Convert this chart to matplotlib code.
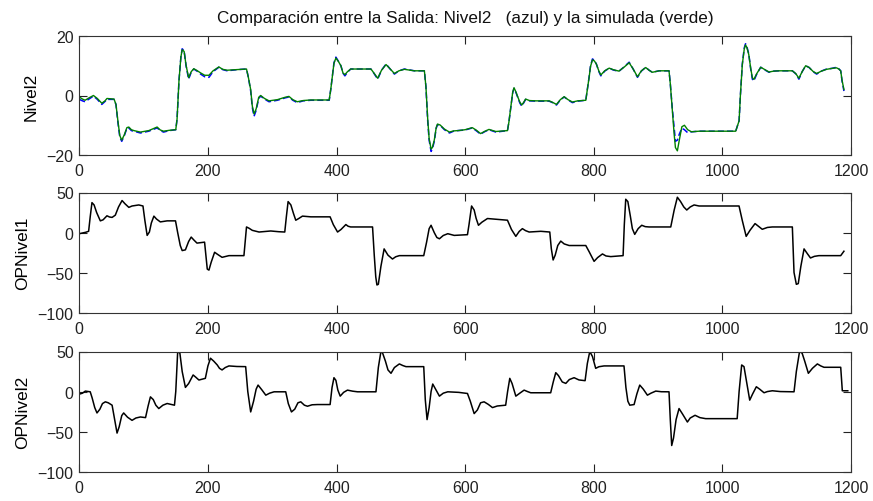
import matplotlib
matplotlib.use("Agg")
import matplotlib.pyplot as plt

plt.rcParams['font.family'] = ['Liberation Sans', 'DejaVu Sans']

# ---- Nivel2 measured (blue) ----
n2_x = [0, 5, 9, 15, 22, 28, 35, 40, 43, 54,
        57, 60, 63, 66, 70, 74, 77, 81, 85, 95,
        108, 121, 126, 131, 140, 150, 152, 155, 158, 160,
        163, 166, 170, 174, 178, 183, 188.6, 195, 201.6, 208,
        217, 223, 230, 245.7, 260, 263, 266.5, 269, 271.7, 275,
        279, 282, 288, 295, 308, 320, 326, 332, 339, 348,
        360, 388.6, 391, 393.8, 396, 399, 403, 406.8, 410, 413,
        417, 422, 453.5, 458, 464, 470, 477, 483, 490, 497,
        505.5, 521, 536.6, 539, 541.8, 544, 547, 549, 552, 555,
        557, 561, 567.8, 575.6, 582, 588.6, 600, 611, 617, 624,
        630, 637, 647.7, 665.8, 668, 671, 674, 676, 679, 681,
        685, 688, 691, 694, 700, 710, 730.6, 736, 742, 748,
        754, 760, 766.8, 775, 787.6, 790, 792.7, 795, 798, 801,
        804, 808, 811, 817, 824, 830, 839, 847, 855, 861,
        868, 874, 880.8, 886, 891, 901.6, 917, 919, 922, 925,
        927, 930, 933, 937, 941, 946, 952, 963.7, 1020.7, 1026,
        1028, 1031, 1034, 1036, 1038, 1041, 1044, 1046.6, 1049, 1053,
        1059.6, 1066, 1072.5, 1080, 1088, 1108.8, 1114, 1119, 1124, 1129.5,
        1135, 1141, 1146.6, 1154, 1162, 1170, 1177.5, 1181, 1184, 1186,
        1189]
n2_y = [-1.3, -1.8, -2.1, -1.2, -0.2, -1.3, -3.0, -2.0, -1.3, -1.3,
        -3, -9, -14, -15.4, -13.5, -11, -10.9, -11.8, -12.0, -12.6,
        -12.0, -10.9, -11.8, -12.3, -11.8, -11.5, -8, 5, 13, 15.7,
        15, 10, 5.5, 7.8, 8.9, 8.2, 7.2, 6.3, 6.1, 8,
        9.5, 8.7, 8.3, 8.7, 8.9, 6, 1.5, -4, -7, -5,
        -1, -0.2, -1.2, -2.1, -1.6, -0.8, -0.5, -1.6, -2.4, -1.8,
        -1.6, -1.6, 2, 7.2, 11, 12.9, 11.5, 10, 7.5, 6.6,
        7.8, 8.9, 8.9, 7.5, 5.5, 8.5, 10.6, 9, 7.2, 8.3,
        8.9, 8.3, 8.3, 3, -8.7, -15, -18.8, -18, -15.4, -11,
        -9.8, -10, -11.5, -12.6, -12.0, -11.8, -11.6, -10.9, -11.8, -13,
        -12.2, -11.5, -12.3, -11.8, -9, -4.1, 1, 2.4, 1, -0.2,
        -2.5, -3.6, -2.5, -1.3, -1.8, -1.9, -1.9, -2.4, -3.2, -1.5,
        -0.5, -1.5, -2.4, -1.9, -1.6, 2, 6.1, 10, 12.3, 11.8,
        10.6, 8, 6.6, 8.2, 9.2, 8.6, 8.1, 9.6, 11.2, 9,
        6.1, 8.2, 9.5, 8.5, 7.8, 8.3, 8.3, 4, -4.1, -11,
        -15.4, -15, -13, -11, -11.5, -12.5, -12.2, -12, -12, -8.5,
        0, 10.6, 16, 17.4, 16.5, 14, 9, 5.5, 4.9, 7,
        9.5, 8.6, 7.8, 8.2, 8.3, 8.3, 7.3, 5.5, 8, 10,
        9.4, 8, 7.2, 8.2, 8.9, 9.1, 9.5, 9, 8.3, 5,
        1.5]

# ---- Nivel2 simulated (green), same sample instants ----
sim_y = [-0.5, -1.2, -1.6, -0.8, 0.0, -1.0, -2.6, -1.8, -1.0, -1.2,
         -3, -8.5, -13.5, -15.0, -13.2, -10.8, -10.6, -11.5, -11.8, -12.3,
         -11.8, -10.6, -11.6, -12.0, -11.7, -11.5, -8, 5, 13, 15.4,
         14.8, 10.2, 6.0, 8.0, 9.0, 8.4, 7.6, 6.8, 6.8, 8.3,
         9.6, 8.8, 8.5, 8.7, 8.9, 6, 2.0, -3.5, -6.2, -4.5,
         -0.6, 0.0, -1.0, -1.8, -1.4, -0.6, -0.3, -1.4, -2.1, -1.7,
         -1.5, -1.5, 2, 7.0, 10.8, 12.6, 11.4, 10.0, 7.6, 7.0,
         8.0, 8.9, 8.9, 7.6, 5.8, 8.5, 10.4, 9.0, 7.4, 8.3,
         8.8, 8.3, 8.3, 3, -8.0, -14.5, -18.0, -17.5, -15.0, -10.8,
         -9.6, -9.9, -11.3, -12.3, -11.9, -11.8, -11.5, -10.8, -11.6, -12.8,
         -12.1, -11.4, -12.1, -11.8, -9, -4.0, 1.2, 2.6, 1.2, 0.0,
         -2.2, -3.2, -2.3, -1.2, -1.7, -1.8, -1.8, -2.3, -3.0, -1.4,
         -0.4, -1.4, -2.2, -1.8, -1.6, 2, 6.0, 9.8, 12.0, 11.6,
         10.6, 8.2, 6.9, 8.3, 9.2, 8.7, 8.2, 9.5, 11.0, 9.0,
         6.3, 8.3, 9.4, 8.5, 7.8, 8.3, 8.3, 4, -4.5, -13,
         -17.5, -18.6, -15, -10.5, -10.0, -11.5, -12.2, -12, -12, -8.5,
         0, 10.4, 15.6, 17.0, 16.2, 13.8, 9.2, 6.0, 5.4, 7.2,
         9.5, 8.7, 7.9, 8.2, 8.3, 8.3, 7.4, 5.8, 8.0, 10.0,
         9.4, 8.1, 7.4, 8.2, 8.8, 9.1, 9.3, 8.9, 8.3, 5.2,
         2.0]

# ---- OPNivel1 ----
op1_x = [0, 10, 14.5, 17, 19.7, 23, 27, 32.7, 37, 43, 47, 51, 56, 61, 66.5, 71, 77, 82, 92.5, 99,
         102, 105.5, 109, 112, 116, 120, 126, 136.6, 149.6, 153, 157, 160, 165, 170, 174, 178, 183,
         194.8, 197, 199, 201.6, 205, 210.4, 215, 222, 232.7, 256, 258, 260, 264, 269, 279.5, 297.7,
         310, 319.5, 322, 324.7, 329, 333, 336.6, 341, 347, 360, 390, 395, 401.6, 407, 414.5, 418,
         422, 456, 458.7, 461, 462.8, 465, 469, 474, 480, 487, 492, 497.7, 535.6, 540, 544, 547,
         552, 556, 560, 566, 573, 583, 603.6, 606, 610, 614, 617, 620.7, 626, 634.7, 665.8, 672,
         678.8, 684, 689, 694, 699.5, 717.6, 731.6, 734, 736.8, 740, 744, 748.7, 754, 761.7, 787.6,
         793, 800.5, 806, 813.5, 819, 826.4, 845.6, 847.5, 849.7, 853, 857, 860, 863.7, 869, 874.6,
         880, 886, 919.7, 925, 930, 935, 940, 944.6, 950, 956, 963.7, 1025.9, 1031, 1037, 1043,
         1050.8, 1056, 1062, 1070, 1077.7, 1108.8, 1111.4, 1115, 1118, 1122, 1127, 1132, 1137,
         1143, 1150, 1184, 1189]
op1_y = [-1.3, 0.5, 1.7, 20, 37.4, 34.5, 25, 14.7, 16, 21, 19.5, 19, 21.8, 32, 40, 36, 31.5, 33.2,
         34.5, 33.2, 15, -3.4, 0.8, 12, 20.6, 17, 13.4, 14.7, 14.7, 0, -16, -22.3, -21.4, -11,
         -5.5, -9, -13, -11.8, -30, -45.4, -46.6, -37, -24.4, -27, -30.7, -28.6, -28.6, -10, 7.1,
         5.5, 2.9, 0.8, 2.1, 1.2, 0.8, 20, 38.7, 34.5, 24, 15.5, 17.5, 20.6, 19.7, 19.7, 10, 0.8,
         4, 10.1, 8, 7.1, 7.1, -28.6, -55, -65.1, -64.3, -42, -20.2, -28, -32.8, -30, -28.6,
         -28.6, -12, 5, 9.2, 0, -6, -7.6, -3.5, -1.3, -3.4, -2.5, 10, 33.2, 28.2, 18, 9.2, 13,
         17.6, 15.5, 4, -4.6, 1.5, 5, 2.5, 0.8, 1.7, 0.8, -20, -34, -28, -16, -10.5, -14, -16,
         -16, -24, -35.7, -31, -26.5, -29, -29.8, -28.6, 10, 41.6, 38.7, 20, 5, -2.1, 5, 9.2,
         7.5, 7.1, 7.1, 28, 44.1, 38.7, 32, 28.2, 32, 34.5, 33.2, 33.2, 15, -4.6, 3, 11.3, 8,
         4.2, 6.5, 7.1, 7.1, -49.6, -64.3, -63.4, -42, -20.2, -26, -31.5, -29.5, -28.6, -28.6,
         -23.1]

# ---- OPNivel2 ----
op2_x = [0, 5, 9.4, 17, 20, 24, 27.5, 32, 36, 40.5, 45, 51, 55, 58.7, 62, 66, 69, 75, 82, 88,
         95, 103, 107, 110.6, 115, 119, 123.6, 130, 136.6, 148, 150, 153, 156.4, 160, 165, 170,
         177, 181, 186, 196, 200, 204, 209, 214.5, 218, 222, 227, 232.7, 245, 258.7, 262, 266.5,
         271, 275, 278, 284, 290, 296, 302.9, 321, 325, 329.9, 335, 340, 344.4, 350, 354.8, 362,
         370.4, 390, 393, 396, 399, 402, 405.7, 411, 417, 425, 432.7, 461.3, 465, 469, 471.7, 476,
         480, 484.7, 490, 497.7, 503, 508, 535.6, 538, 540.8, 544, 547, 549.6, 554, 560, 566, 573,
         590, 603.6, 608, 614, 619, 624, 629.5, 636, 642.5, 650, 663, 666, 669.4, 673, 678.8, 685,
         691.7, 697, 702, 733, 737, 740.9, 745, 751, 756.5, 762, 769.4, 777, 786.5, 790, 793.8,
         798, 803, 808, 816, 847, 850, 853, 856, 862.7, 867, 871.5, 877, 883.4, 889, 896.4, 905,
         917, 919, 921.2, 924, 928, 932.6, 938, 945.6, 950, 957.5, 965, 974, 1023, 1026, 1030,
         1033.6, 1037, 1042.5, 1047, 1052.8, 1058, 1064.8, 1070, 1077.7, 1090, 1111.4, 1115, 1120,
         1124, 1128, 1133.7, 1140, 1147.7, 1153, 1158, 1184, 1186.5, 1195]
op2_y = [-3.2, -2, 0.6, -0.3, -8, -20, -26.7, -22, -15, -12.8, -14, -17, -35, -51.8, -44, -30,
         -26.7, -32, -35.9, -33, -31.7, -32.5, -18, -6.6, -10, -17, -21.2, -17, -14.9, -17, 0,
         50, 47.9, 25, 5.2, 10, 20.7, 18, 14.4, 16.5, 32, 41.6, 38, 33.2, 29, 27, 30, 32, 31.3,
         31.1, 0, -25.4, -12, 3, 8.1, 2, -4.5, -2, -0.3, -0.3, -15, -25.4, -22, -14, -12.8, -17,
         -18.3, -16.5, -16.2, -16.2, 5, 17.3, 14, 2, -5.7, -1, 1.8, 0.5, -0.3, -0.3, 30, 50,
         47.9, 38, 27, 22.8, 30, 34.5, 32.5, 31.1, 31.1, -10, -35, -20, 0, 9.4, 3, -5.7, -2,
         -0.3, -1, -2.4, -12, -27.5, -23, -14, -12.8, -16, -20, -18, -17, 0, 16.5, 10, -5.7, -2,
         1.8, 0, -1.5, -1.5, 12, 23.6, 20, 12, 10.2, 15, 17.3, 14.5, 13.6, 35, 50, 43.7, 29, 31,
         32, 32, 5, -12, -17, -16.2, -3, 8.1, 3, -4.5, -2, 0.6, -0.2, -0.3, -35, -67.3, -58, -35,
         -21.2, -28, -38, -33, -29.6, -32.5, -33.8, -33.8, 0, 33.2, 31.1, 15, -10.7, -3, 6, 3,
         -1.5, 0, 1, 0, -0.3, 25, 50, 47.9, 38, 22.8, 29, 34.5, 32, 30.3, 30.3, 1, 1]

assert len(n2_x) == len(n2_y) == len(sim_y)
assert len(op1_x) == len(op1_y)
assert len(op2_x) == len(op2_y)

xticks = [0, 200, 400, 600, 800, 1000, 1200]

fig = plt.figure(figsize=(8.73, 5.02), dpi=100)
W, H = 873, 502
LEFT, RIGHT = 79.3, 851

def make_ax(top_px, bot_px):
    return fig.add_axes([LEFT / W, 1 - bot_px / H, (RIGHT - LEFT) / W, (bot_px - top_px) / H])

ax1 = make_ax(37, 156)
ax2 = make_ax(193.5, 314)
ax3 = make_ax(352.5, 472.7)

ax1.plot(n2_x, n2_y, color='#0000ff', lw=1.1, ls=(0, (4, 2)))
ax1.plot(n2_x, sim_y, color='#008000', lw=1.0)
ax1.set_ylim(-20, 20)
ax1.set_yticks([-20, 0, 20])
ax1.set_ylabel('Nivel2', fontsize=12.5)
ax1.set_title('Comparación entre la Salida: Nivel2   (azul) y la simulada (verde)',
              fontsize=12.3, pad=10, color='#111111')

ax2.plot(op1_x, op1_y, color='black', lw=1.1)
ax2.set_ylim(-100, 50)
ax2.set_yticks([-100, -50, 0, 50])
ax2.set_ylabel('OPNivel1', fontsize=12.5)

ax3.plot(op2_x, op2_y, color='black', lw=1.1)
ax3.set_ylim(-100, 50)
ax3.set_yticks([-100, -50, 0, 50])
ax3.set_ylabel('OPNivel2', fontsize=12.5)

axw = RIGHT - LEFT
ax1.yaxis.set_label_coords((39 - LEFT) / axw, 0.5)
ax2.yaxis.set_label_coords((30 - LEFT) / axw, 0.5)
ax3.yaxis.set_label_coords((30 - LEFT) / axw, 0.5)

for ax in (ax1, ax2, ax3):
    ax.set_xlim(0, 1200)
    ax.set_xticks(xticks)
    ax.tick_params(direction='in', length=6, width=0.8, top=True, right=True,
                   labelsize=11.5, colors='#222222', labelcolor='#222222')
    ax.tick_params(axis='x', pad=6)
    ax.tick_params(axis='y', pad=4)
    for s in ax.spines.values():
        s.set_linewidth(0.8)
        s.set_color('#333333')

fig.savefig('out.png', dpi=100)
